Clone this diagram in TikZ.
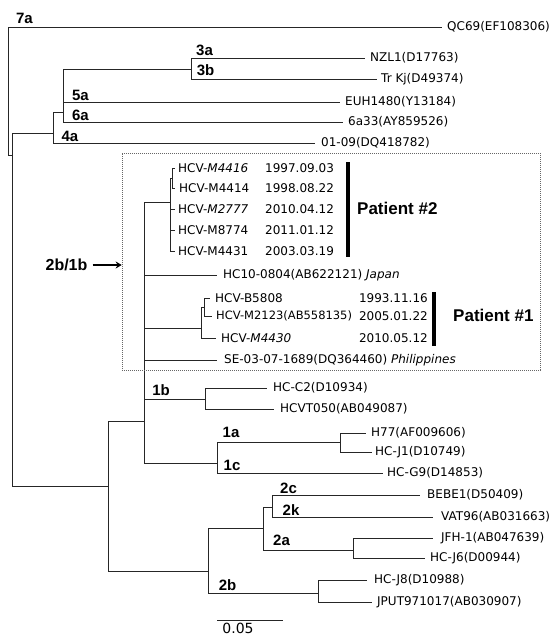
\documentclass[tikz,border=0pt]{standalone}
\usepackage{fontspec}
\setmainfont{DejaVu Sans}
\newfontfamily\arialfont{Liberation Sans}
\usetikzlibrary{arrows.meta, positioning}
\tikzset{
  br/.style={draw=black!85, line width=0.8pt},
  leaf/.style={inner sep=0pt, font=\fontsize{12}{13}\selectfont},
  sub/.style={inner sep=0pt, font=\arialfont\bfseries\fontsize{15}{16}\selectfont},
  pat/.style={inner sep=0pt, font=\arialfont\bfseries\fontsize{17}{18}\selectfont},
  pbar/.style={fill=black, inner sep=0pt, minimum width=3.5pt},
  clbox/.style={draw=black!60, line width=0.6pt, dash pattern=on 0.8pt off 1.2pt, inner sep=0pt},
  arr/.style={-{Stealth[length=6pt,width=7pt]}, line width=1.4pt}
}
\begin{document}
\begin{tikzpicture}[x=1pt, y=-1pt]
	\useasboundingbox (0,0) rectangle (552,636);
	% internal nodes and branch tips
	\coordinate (root) at (8,155);
	\coordinate (t7a) at (442,27);
	\coordinate (nC) at (12,155);
	\coordinate (n4) at (53,133);
	\coordinate (t4a) at (315,143);
	\coordinate (nX) at (63,112);
	\coordinate (n3) at (191,69);
	\coordinate (tNZL) at (365,58);
	\coordinate (tTrKj) at (377,79);
	\coordinate (t5a) at (340,102);
	\coordinate (t6a) at (343,122);
	\coordinate (nD) at (108,486);
	\coordinate (nE) at (144,421);
	\coordinate (nP2) at (170,202);
	\coordinate (nP2a) at (172,178);
	\coordinate (tM4416) at (175,168);
	\coordinate (tM4414) at (175,188);
	\coordinate (tM2777) at (175,209);
	\coordinate (tM8774) at (175,230);
	\coordinate (tM4431) at (175,251);
	\coordinate (tHC10) at (217,275);
	\coordinate (nP1) at (201,328);
	\coordinate (nP1a) at (204,307);
	\coordinate (tB5808) at (210,298);
	\coordinate (tM2123) at (212,316);
	\coordinate (tM4430) at (216,338);
	\coordinate (tSE) at (217,360);
	\coordinate (n1b) at (205,399);
	\coordinate (tHCC2) at (267,388);
	\coordinate (tHCVT) at (274,409);
	\coordinate (n1ac) at (217,463);
	\coordinate (n1a) at (340,442);
	\coordinate (tH77) at (366,433);
	\coordinate (tHCJ1) at (372,452);
	\coordinate (tHCG9) at (383,473);
	\coordinate (n2) at (208,571);
	\coordinate (n2ack) at (263,528);
	\coordinate (n2ck) at (272,507);
	\coordinate (tBEBE) at (420,495);
	\coordinate (tVAT) at (433,517);
	\coordinate (n2a) at (353,550);
	\coordinate (tJFH) at (433,538);
	\coordinate (tHCJ6) at (425,558);
	\coordinate (n2b) at (318,593);
	\coordinate (tHCJ8) at (367,580);
	\coordinate (tJPUT) at (372,602);

	% branches
	\draw[br] (root) |- (t7a);
	\draw[br] (root) -- (nC);
	\draw[br] (nC) |- (n4);
	\draw[br] (nC) |- (nD);
	\draw[br] (n4) |- (nX);
	\draw[br] (n4) |- (t4a);
	\draw[br] (nX) |- (n3);
	\draw[br] (nX) |- (t5a);
	\draw[br] (nX) |- (t6a);
	\draw[br] (n3) |- (tNZL);
	\draw[br] (n3) |- (tTrKj);
	\draw[br] (nD) |- (nE);
	\draw[br] (nD) |- (n2);
	\draw[br] (nE) |- (nP2);
	\draw[br] (nE) |- (tHC10);
	\draw[br] (nE) |- (nP1);
	\draw[br] (nE) |- (tSE);
	\draw[br] (nE) |- (n1b);
	\draw[br] (nE) |- (n1ac);
	\draw[br] (nP2) |- (nP2a);
	\draw[br] (nP2) |- (tM2777);
	\draw[br] (nP2) |- (tM8774);
	\draw[br] (nP2) |- (tM4431);
	\draw[br] (nP2a) |- (tM4416);
	\draw[br] (nP2a) |- (tM4414);
	\draw[br] (nP1) |- (nP1a);
	\draw[br] (nP1) |- (tM4430);
	\draw[br] (nP1a) |- (tB5808);
	\draw[br] (nP1a) |- (tM2123);
	\draw[br] (n1b) |- (tHCC2);
	\draw[br] (n1b) |- (tHCVT);
	\draw[br] (n1ac) |- (n1a);
	\draw[br] (n1ac) |- (tHCG9);
	\draw[br] (n1a) |- (tH77);
	\draw[br] (n1a) |- (tHCJ1);
	\draw[br] (n2) |- (n2ack);
	\draw[br] (n2) |- (n2b);
	\draw[br] (n2ack) |- (n2ck);
	\draw[br] (n2ack) |- (n2a);
	\draw[br] (n2ck) |- (tBEBE);
	\draw[br] (n2ck) |- (tVAT);
	\draw[br] (n2a) |- (tJFH);
	\draw[br] (n2a) |- (tHCJ6);
	\draw[br] (n2b) |- (tHCJ8);
	\draw[br] (n2b) |- (tJPUT);

	% leaf labels
	\node[leaf, right=5pt of t7a] (lQC) {QC69(EF108306)};
	\node[leaf, right=5pt of tNZL] (lNZL) {NZL1(D17763)};
	\node[leaf, right=4pt of tTrKj] (lTrKj) {Tr Kj(D49374)};
	\node[leaf, right=5pt of t5a] (lEUH) {EUH1480(Y13184)};
	\node[leaf, right=5pt of t6a] (l6a33) {6a33(AY859526)};
	\node[leaf, right=6pt of t4a] (l0109) {01-09(DQ418782)};
	\node[leaf, right=3pt of tM4416] (lM4416) {HCV-\textit{M4416}};
	\node[leaf, right=4pt of tM4414] (lM4414) {HCV-M4414};
	\node[leaf, right=3pt of tM2777] (lM2777) {HCV-\textit{M2777}};
	\node[leaf, right=3pt of tM8774] (lM8774) {HCV-M8774};
	\node[leaf, right=3pt of tM4431] (lM4431) {HCV-M4431};
	\node[leaf, right=6pt of tHC10] (lHC10) {HC10-0804(AB622121) \textit{Japan}};
	\node[leaf, right=5pt of tB5808] (lB5808) {HCV-B5808};
	\node[leaf, font=\fontsize{11.5}{13}\selectfont, right=4pt of tM2123] (lM2123) {HCV-M2123(AB558135)};
	\node[leaf, right=5pt of tM4430] (lM4430) {HCV-\textit{M4430}};
	\node[leaf, right=7pt of tSE] (lSE) {SE-03-07-1689(DQ364460) \textit{Philippines}};
	\node[leaf, right=6pt of tHCC2] (lHCC2) {HC-C2(D10934)};
	\node[leaf, right=6pt of tHCVT] (lHCVT) {HCVT050(AB049087)};
	\node[leaf, right=5pt of tH77] (lH77) {H77(AF009606)};
	\node[leaf, right=3pt of tHCJ1] (lHCJ1) {HC-J1(D10749)};
	\node[leaf, right=4pt of tHCG9] (lHCG9) {HC-G9(D14853)};
	\node[leaf, right=7pt of tBEBE] (lBEBE) {BEBE1(D50409)};
	\node[leaf, right=8pt of tVAT] (lVAT) {VAT96(AB031663)};
	\node[leaf, right=8pt of tJFH] (lJFH) {JFH-1(AB047639)};
	\node[leaf, right=5pt of tHCJ6] (lHCJ6) {HC-J6(D00944)};
	\node[leaf, right=7pt of tHCJ8] (lHCJ8) {HC-J8(D10988)};
	\node[leaf, right=5pt of tJPUT] (lJPUT) {JPUT971017(AB030907)};

	% sampling dates
	\node[leaf, anchor=west] (d4416) at (265,168) {1997.09.03};
	\node[leaf, anchor=west] (d4414) at (265,188) {1998.08.22};
	\node[leaf, anchor=west] (d2777) at (265,209) {2010.04.12};
	\node[leaf, anchor=west] (d8774) at (265,230) {2011.01.12};
	\node[leaf, anchor=west] (d4431) at (265,251) {2003.03.19};
	\node[leaf, anchor=east] (d5808) at (428,298) {1993.11.16};
	\node[leaf, anchor=east] (d2123) at (428,316) {2005.01.22};
	\node[leaf, anchor=east] (d4430) at (428,338) {2010.05.12};

	% subtype labels
	\node[sub] (s7a) at (24.5,18) {7a};
	\node[sub] (s3a) at (204.5,50) {3a};
	\node[sub] (s3b) at (205.5,70) {3b};
	\node[sub] (s5a) at (80.5,95) {5a};
	\node[sub] (s6a) at (80.5,115) {6a};
	\node[sub] (s4a) at (70,136) {4a};
	\node[sub] (s1b) at (161,390) {1b};
	\node[sub] (s1a) at (231,432) {1a};
	\node[sub] (s1c) at (232,465) {1c};
	\node[sub] (s2c) at (288.5,488) {2c};
	\node[sub] (s2k) at (291,510) {2k};
	\node[sub] (s2a) at (281.5,540) {2a};
	\node[sub] (s2b) at (227.5,585) {2b};

	% patient clusters
	\node[clbox, minimum width=418pt, minimum height=217pt] (box) at (331,261.5) {};
	\node[pbar, minimum height=95pt] (bar2) at (348,209.5) {};
	\node[pbar, minimum height=54pt] (bar1) at (434,319) {};
	\node[pat, anchor=west] (pat2) at (357,208) {Patient \#2};
	\node[pat, anchor=west] (pat1) at (453,315) {Patient \#1};
	\node[sub, font=\arialfont\bfseries\fontsize{16}{17}\selectfont] (l2b1b) at (66.5,265) {2b/1b};
	\draw[arr] ([xshift=5pt]l2b1b.east) -- (l2b1b.east -| box.west);

	% scale bar
	\coordinate (sbL) at (217,620);
	\coordinate (sbR) at (283,620);
	\draw[br] (sbL) -- (sbR);
	\node[leaf, font=\fontsize{14}{15}\selectfont] (sbl) at (238,628) {0.05};
\end{tikzpicture}
\end{document}
